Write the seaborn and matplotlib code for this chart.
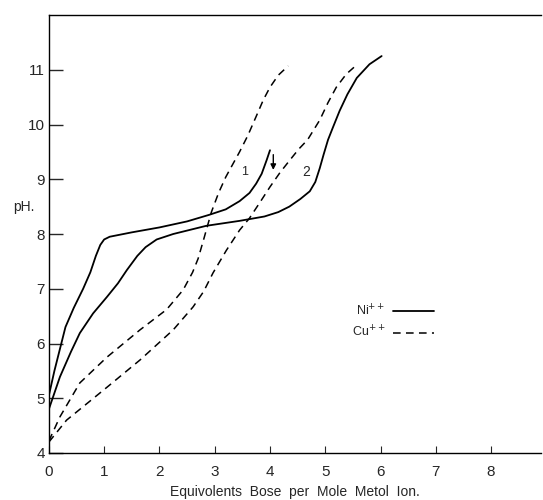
import numpy as np
import pandas as pd
import matplotlib
matplotlib.use("Agg")
import matplotlib.pyplot as plt
import seaborn as sns

# values (equivalents of base, pH)
ni1_x = [0, 0.1, 0.3, 0.45, 0.62, 0.75, 0.85, 0.93, 1.0, 1.1, 1.5, 2.0, 2.5, 2.9,
         3.2, 3.45, 3.63, 3.75, 3.85, 3.94, 4.0]
ni1_ph = [5.05, 5.5, 6.3, 6.65, 7.0, 7.3, 7.6, 7.8, 7.9, 7.95, 8.03, 8.12, 8.23, 8.35,
          8.45, 8.6, 8.75, 8.92, 9.1, 9.35, 9.53]

ni2_x = [0, 0.2, 0.4, 0.56, 0.8, 1.05, 1.25, 1.41, 1.6, 1.75, 1.95, 2.25, 2.85, 3.45,
         3.9, 4.15, 4.35, 4.55, 4.72, 4.82, 4.9, 4.97, 5.05, 5.14, 5.26, 5.4, 5.57,
         5.8, 6.02]
ni2_ph = [4.8, 5.39, 5.85, 6.19, 6.55, 6.85, 7.1, 7.34, 7.6, 7.76, 7.9, 8.0, 8.15, 8.24,
          8.32, 8.4, 8.5, 8.64, 8.78, 8.95, 9.2, 9.45, 9.72, 9.95, 10.25, 10.55, 10.85,
          11.1, 11.25]

cu1_x = [0, 0.2, 0.56, 1.05, 1.65, 2.13, 2.43, 2.6, 2.7, 2.8, 2.87, 2.94, 3.07, 3.2,
         3.33, 3.45, 3.6, 3.76, 3.88, 4.0, 4.15, 4.33]
cu1_ph = [4.22, 4.66, 5.28, 5.75, 6.25, 6.62, 6.98, 7.3, 7.55, 7.9, 8.15, 8.4, 8.75, 9.04,
          9.28, 9.5, 9.8, 10.17, 10.45, 10.68, 10.9, 11.07]

cu2_x = [0, 0.32, 1.05, 1.65, 2.25, 2.61, 2.8, 2.97, 3.21, 3.45, 3.63, 3.82, 4.0, 4.18,
         4.36, 4.52, 4.68, 4.9, 5.05, 5.2, 5.38, 5.57]
cu2_ph = [4.2, 4.6, 5.2, 5.7, 6.25, 6.67, 6.95, 7.29, 7.7, 8.07, 8.29, 8.58, 8.86, 9.12,
          9.35, 9.55, 9.72, 10.08, 10.4, 10.68, 10.92, 11.09]

x_ticks = [0, 1, 2, 3, 4, 5, 6, 7, 8]
y_ticks = [4, 5, 6, 7, 8, 9, 10, 11]

sns.set_style("ticks")
plt.rcParams['font.family'] = ['Liberation Sans', 'DejaVu Sans']

fig = plt.figure(figsize=(5.43, 5.0), dpi=100)
ax = fig.add_axes([0.090, 0.094, 0.906, 0.876])

dash = (5, 3.5)
sns.lineplot(x=ni1_x, y=ni1_ph, ax=ax, color='black', lw=1.3, sort=False, label='Ni$^{++}$')
sns.lineplot(x=ni2_x, y=ni2_ph, ax=ax, color='black', lw=1.3, sort=False)
sns.lineplot(x=cu1_x, y=cu1_ph, ax=ax, color='black', lw=1.1, sort=False, label='Cu$^{++}$')
sns.lineplot(x=cu2_x, y=cu2_ph, ax=ax, color='black', lw=1.1, sort=False)
ax.lines[2].set_dashes(dash)
ax.lines[3].set_dashes(dash)

# arrow at the end of Ni curve 1
ax.annotate('', xy=(4.06, 9.12), xytext=(4.06, 9.5),
            arrowprops=dict(arrowstyle='-|>', color='black', lw=1.0, mutation_scale=8))
ax.text(3.54, 9.13, '1', fontsize=9, ha='center', va='center')
ax.text(4.65, 9.13, '2', fontsize=10, ha='center', va='center')

ax.set_xlim(0, 8.9)
ax.set_ylim(4, 12.0)
ax.set_xticks(x_ticks)
ax.set_yticks(y_ticks)
ax.tick_params(axis='y', direction='in', length=10, width=1.0, labelsize=11, pad=3)
ax.tick_params(axis='x', direction='in', length=5, width=0.8, labelsize=11, pad=9)
sns.despine(ax=ax, top=False, right=True)
for s in ['left', 'bottom', 'top']:
    ax.spines[s].set_linewidth(1.0)
    ax.spines[s].set_color('black')

ax.set_xlabel('Equivolents  Bose  per  Mole  Metol  Ion.', fontsize=10, labelpad=4)
ax.set_ylabel('pH.', fontsize=10, rotation=0, labelpad=0)
ax.yaxis.set_label_coords(-0.05, 0.545)

leg = ax.legend(loc='center', bbox_to_anchor=(0.7, 0.30), frameon=False, markerfirst=False,
                fontsize=9, handlelength=3.3, handletextpad=0.6, labelspacing=0.5)
for h in leg.get_lines():
    h.set_color('black')

fig.savefig('out.png', dpi=100)
